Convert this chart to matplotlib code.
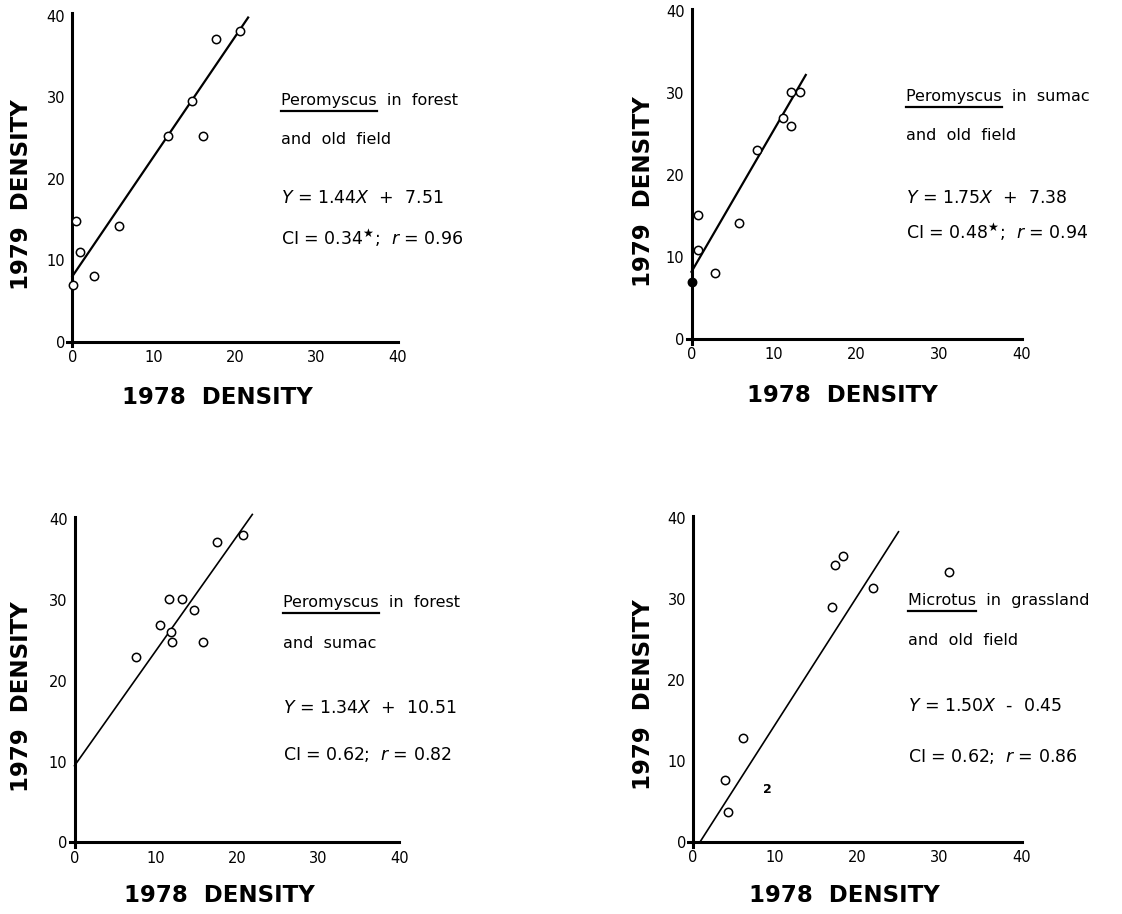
import matplotlib
matplotlib.use("Agg")
import matplotlib.pyplot as plt
from matplotlib.lines import Line2D

plt.rcParams['font.family'] = ['DejaVu Sans']
plt.rcParams['mathtext.fontset'] = 'dejavusans'

# ---------------- data ----------------
ticks = [0, 10, 20, 30, 40]
tick_labels = ["0", "10", "20", "30", "40"]
x_label = "1978  DENSITY"
y_label = "1979  DENSITY"

# Panel A: Peromyscus in forest and old field
a_x = [20.6, 17.7, 14.7, 11.7, 16.0, 5.7, 0.45, 0.95, 2.7, 0.05]
a_y = [38.2, 37.2, 29.5, 25.2, 25.2, 14.2, 14.8, 11.0, 8.0, 6.9]
a_filled = [False] * 10
a_line_x = [0.0, 21.6]
a_line_y = [8.0, 39.8]
a_species = "Peromyscus"
a_title1 = "Peromyscus  in  forest"
a_title2 = "and  old  field"
a_eq = "$Y$ = 1.44$X$  +  7.51"
a_stat = "CI = 0.34$^{\u2605}$;  $r$ = 0.96"

# Panel B: Peromyscus in sumac and old field
b_x = [13.15, 12.0, 11.1, 12.0, 7.9, 5.7, 0.75, 0.75, 2.9, 0.0]
b_y = [30.1, 30.1, 27.0, 26.0, 23.0, 14.2, 15.1, 10.85, 8.1, 6.9]
b_filled = [False] * 9 + [True]
b_line_x = [0.0, 13.85]
b_line_y = [8.2, 32.2]
b_species = "Peromyscus"
b_title1 = "Peromyscus  in  sumac"
b_title2 = "and  old  field"
b_eq = "$Y$ = 1.75$X$  +  7.38"
b_stat = "CI = 0.48$^{\u2605}$;  $r$ = 0.94"

# Panel C: Peromyscus in forest and sumac
c_x = [20.8, 17.6, 11.6, 13.2, 14.75, 10.5, 11.9, 12.0, 15.8, 7.6]
c_y = [38.0, 37.2, 30.1, 30.1, 28.8, 26.9, 26.1, 24.8, 24.8, 22.9]
c_filled = [False] * 10
c_line_x = [0.0, 21.9]
c_line_y = [9.5, 40.6]
c_species = "Peromyscus"
c_title1 = "Peromyscus  in  forest"
c_title2 = "and  sumac"
c_eq = "$Y$ = 1.34$X$  +  10.51"
c_stat = "CI = 0.62;  $r$ = 0.82"

# Panel D: Microtus in grassland and old field
d_x = [18.2, 17.3, 21.9, 16.9, 6.1, 3.9, 4.2, 31.1]
d_y = [35.3, 34.2, 31.3, 29.05, 12.9, 7.65, 3.65, 33.3]
d_filled = [False] * 8
d_count_x = [9.1]
d_count_y = [6.5]
d_count_text = ["2"]
d_line_x = [0.85, 25.0]
d_line_y = [0.0, 38.3]
d_species = "Microtus"
d_title1 = "Microtus  in  grassland"
d_title2 = "and  old  field"
d_eq = "$Y$ = 1.50$X$  -  0.45"
d_stat = "CI = 0.62;  $r$ = 0.86"

# ---------------- layout ----------------
W, H = 1122, 914
fig = plt.figure(figsize=(W / 100, H / 100), dpi=100)
fig.patch.set_facecolor('white')


def fx(px):
    return px / W


def fy(py):
    return 1 - py / H


def make_axes(ox, oy, sx, sy, xlo=-0.6, xhi=40.0, ylo=-0.6, yhi=40.3):
    left = ox + xlo * sx
    right = ox + xhi * sx
    bottom = oy - ylo * sy
    top = oy - yhi * sy
    ax = fig.add_axes([fx(left), fy(bottom), (right - left) / W, (bottom - top) / H])
    ax.set_xlim(xlo, xhi)
    ax.set_ylim(ylo, yhi)
    ax.patch.set_alpha(0)
    for s in ['top', 'right']:
        ax.spines[s].set_visible(False)
    for s in ['left', 'bottom']:
        ax.spines[s].set_position(('data', 0))
        ax.spines[s].set_linewidth(2.2)
    ax.set_xticks(ticks)
    ax.set_xticklabels(tick_labels)
    ax.set_yticks(ticks)
    ax.set_yticklabels(tick_labels)
    ax.tick_params(axis='x', length=0, pad=6, labelsize=10.5)
    ax.tick_params(axis='y', length=0, pad=5, labelsize=10.5)
    return ax


renderer = fig.canvas.get_renderer()


def text_block(x0, ys, species, t1, t2, eq, stat, fs=11.5):
    fig.text(fx(x0), fy(ys[0]), t1, fontsize=fs, ha='left', va='baseline')
    # underline under species name
    tmp = fig.text(fx(x0), fy(ys[0]), species, fontsize=fs, ha='left', va='baseline')
    bb = tmp.get_window_extent(renderer)
    tmp.remove()
    yline = fy(ys[0]) - 6 / H
    fig.add_artist(Line2D([bb.x0 / W, bb.x1 / W], [yline, yline],
                          transform=fig.transFigure, color='black', lw=1.6))
    fig.text(fx(x0), fy(ys[1]), t2, fontsize=fs, ha='left', va='baseline')
    fig.text(fx(x0), fy(ys[2]), eq, fontsize=fs + 1, ha='left', va='baseline')
    fig.text(fx(x0), fy(ys[3]), stat, fontsize=fs + 1, ha='left', va='baseline')


def draw_panel(ax, xs, ys, filled, lx, ly, lw):
    ax.plot(lx, ly, color='black', lw=lw, clip_on=False, zorder=2)
    for x, y, f in zip(xs, ys, filled):
        ax.plot([x], [y], 'o', ms=6, mew=1.1, mec='black',
                mfc='black' if f else 'white', clip_on=False, zorder=3)


# Panel A
axA = make_axes(72.3, 341.5, 8.14, 8.14)
draw_panel(axA, a_x, a_y, a_filled, a_line_x, a_line_y, 1.6)
text_block(281, [105, 144, 203, 245], a_species, a_title1, a_title2, a_eq, a_stat)
fig.text(fx(217.5), fy(398), x_label, fontsize=16.5, fontweight='bold', ha='center', va='center')
fig.text(fx(22), fy(195), y_label, fontsize=16.5, fontweight='bold', ha='center', va='center', rotation=90)

# Panel B
axB = make_axes(691.5, 339, 8.25, 8.2)
draw_panel(axB, b_x, b_y, b_filled, b_line_x, b_line_y, 1.6)
text_block(906, [101, 140, 203, 239], b_species, b_title1, b_title2, b_eq, b_stat)
fig.text(fx(842.5), fy(395), x_label, fontsize=16.5, fontweight='bold', ha='center', va='center')
fig.text(fx(643), fy(192), y_label, fontsize=16.5, fontweight='bold', ha='center', va='center', rotation=90)

# Panel C
axC = make_axes(74.5, 842.5, 8.12, 8.08)
draw_panel(axC, c_x, c_y, c_filled, c_line_x, c_line_y, 1.2)
text_block(283, [607, 648, 713, 760], c_species, c_title1, c_title2, c_eq, c_stat)
fig.text(fx(219), fy(895), x_label, fontsize=16.5, fontweight='bold', ha='center', va='center')
fig.text(fx(22), fy(697), y_label, fontsize=16.5, fontweight='bold', ha='center', va='center', rotation=90)

# Panel D
axD = make_axes(693, 842, 8.22, 8.1)
draw_panel(axD, d_x, d_y, d_filled, d_line_x, d_line_y, 1.2)
for x, y, t in zip(d_count_x, d_count_y, d_count_text):
    axD.text(x, y, t, fontsize=9, fontweight='bold', ha='center', va='center')
text_block(908, [605, 645, 711, 762], d_species, d_title1, d_title2, d_eq, d_stat)
fig.text(fx(844.5), fy(895), x_label, fontsize=16.5, fontweight='bold', ha='center', va='center')
fig.text(fx(643), fy(695), y_label, fontsize=16.5, fontweight='bold', ha='center', va='center', rotation=90)

fig.savefig("out.png", dpi=100, facecolor='white')
